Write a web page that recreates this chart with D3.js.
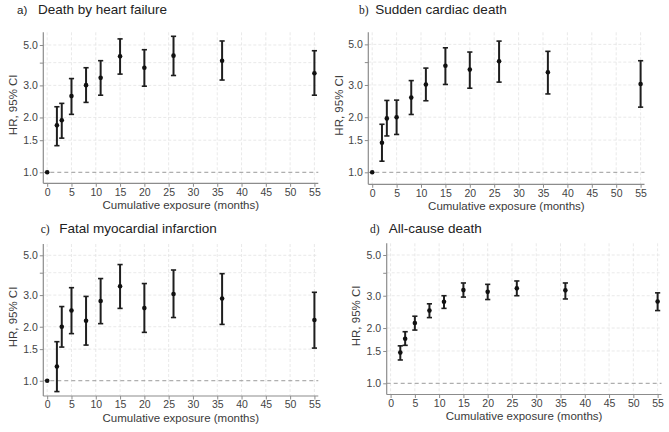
<!DOCTYPE html>
<html>
<head>
<meta charset="utf-8">
<script src="https://cdn.jsdelivr.net/npm/d3@7"></script>
<style>
  body { margin: 0; background: #fff; }
  svg { display: block; font-family: "Liberation Sans", Arial, sans-serif; }
</style>
</head>
<body>
<svg id="chart" width="669" height="432"></svg>
<script>
// cumulative exposure (months)
const months = [0, 2, 3, 5, 8, 11, 15, 20, 26, 36, 55];

// a) death by heart failure
const hf_hr = [1.00, 1.81, 1.93, 2.62, 3.01, 3.30, 4.33, 3.75, 4.37, 4.10, 3.50];
const hf_lo = [null, 1.40, 1.54, 2.08, 2.42, 2.65, 3.46, 2.97, 3.40, 3.21, 2.65];
const hf_hi = [null, 2.29, 2.39, 3.27, 3.75, 4.10, 5.40, 4.71, 5.58, 5.26, 4.65];

// b) sudden cardiac death
const scd_hr = [1.00, 1.45, 1.97, 2.00, 2.56, 3.02, 3.82, 3.64, 4.04, 3.52, 3.04];
const scd_lo = [null, 1.15, 1.58, 1.61, 2.07, 2.46, 3.02, 2.88, 3.11, 2.68, 2.27];
const scd_hi = [null, 1.83, 2.47, 2.48, 3.17, 3.71, 4.79, 4.54, 5.21, 4.58, 4.07];

// c) fatal myocardial infarction
const mi_hr = [1.00, 1.20, 2.00, 2.46, 2.16, 2.78, 3.36, 2.54, 3.04, 2.87, 2.18];
const mi_lo = [null, 0.87, 1.54, 1.83, 1.58, 2.08, 2.53, 1.86, 2.25, 2.06, 1.52];
const mi_hi = [null, 1.65, 2.59, 3.30, 2.95, 3.71, 4.44, 3.48, 4.14, 3.95, 3.11];

// d) all-cause death (no reference point drawn)
const acd_hr = [null, 1.47, 1.75, 2.13, 2.49, 2.78, 3.22, 3.15, 3.29, 3.21, 2.79];
const acd_lo = [null, 1.34, 1.61, 1.95, 2.28, 2.56, 2.95, 2.86, 3.00, 2.88, 2.49];
const acd_hi = [null, 1.60, 1.91, 2.32, 2.71, 3.00, 3.52, 3.46, 3.61, 3.52, 3.11];

const xTicks = [0, 5, 10, 15, 20, 25, 30, 35, 40, 45, 50, 55];
const yTicks = [1.0, 1.5, 2.0, 3.0, 5.0];
const yMinor = [4.0];
const xTitle = "Cumulative exposure (months)";
const yTitle = "HR, 95% CI";

const panels = [
  { letter: "a)", title: "Death by heart failure", hr: hf_hr, lo: hf_lo, hi: hf_hi,
    box: [43.3, 32.3, 318.3, 183.3], yDom: [0.870, 5.87], tx: [17, 38, 13.5], letterFont: "sans", yt: 12.7 },
  { letter: "b)", title: "Sudden cardiac death", hr: scd_hr, lo: scd_lo, hi: scd_hi,
    box: [368.3, 32.3, 644.5, 184.3], yDom: [0.860, 5.82], tx: [359, 375.3, 13.5], letterFont: "serif", yt: 339 },
  { letter: "c)", title: "Fatal myocardial infarction", hr: mi_hr, lo: mi_lo, hi: mi_hi,
    box: [43.3, 244, 318.3, 396], yDom: [0.822, 5.78], tx: [40.7, 59.3, 233.3], letterFont: "serif", yt: 13.3 },
  { letter: "d)", title: "All-cause death", hr: acd_hr, lo: acd_lo, hi: acd_hi,
    box: [386.7, 243.3, 661.5, 394.5], yDom: [0.869, 5.79], tx: [370, 388.7, 233.3], letterFont: "serif", yt: 356 }
];

const svg = d3.select("#chart");
const fmt = d3.format(".1f");

panels.forEach(p => {
  const [x0, y0, x1, y1] = p.box;
  const x = d3.scaleLinear().domain([-0.8, 55.8]).range([x0, x1]);
  const y = d3.scaleLog().domain(p.yDom).range([y1, y0]);
  const g = svg.append("g");

  // grid
  g.selectAll("line.vgrid")
    .data(xTicks)
    .enter()
    .append("line")
    .attr("class", "vgrid")
    .attr("x1", d => x(d)).attr("x2", d => x(d))
    .attr("y1", y0).attr("y2", y1)
    .style("stroke", "#e3e3e3")
    .style("stroke-width", 0.8)
    .style("stroke-dasharray", "3,2");

  g.selectAll("line.hgrid")
    .data(yTicks.concat(yMinor).filter(d => d !== 1))
    .enter()
    .append("line")
    .attr("class", "hgrid")
    .attr("x1", x0).attr("x2", x1)
    .attr("y1", d => y(d)).attr("y2", d => y(d))
    .style("stroke", "#e3e3e3")
    .style("stroke-width", 0.8)
    .style("stroke-dasharray", "3,2");

  // reference line at HR = 1
  g.append("line")
    .attr("x1", x0).attr("x2", x1)
    .attr("y1", y(1)).attr("y2", y(1))
    .style("stroke", "#9a9a9a")
    .style("stroke-width", 1)
    .style("stroke-dasharray", "4,3");

  // axes
  const yAxis = d3.axisLeft(y)
    .tickValues(yTicks.concat(yMinor))
    .tickSize(3.5)
    .tickPadding(2)
    .tickFormat(d => yMinor.includes(d) ? "" : fmt(d));
  const xAxis = d3.axisBottom(x)
    .tickValues(xTicks)
    .tickSize(3.5)
    .tickPadding(1.5)
    .tickFormat(d3.format("d"));

  const ya = g.append("g").attr("transform", `translate(${x0},0)`).call(yAxis);
  const xa = g.append("g").attr("transform", `translate(0,${y1})`).call(xAxis);
  [ya, xa].forEach(a => {
    a.select(".domain").remove();
    a.selectAll(".tick line").style("stroke", "#8c8c8c").style("stroke-width", 1);
    a.selectAll(".tick text")
      .style("fill", "#444")
      .style("font-size", "10.5px")
      .style("font-family", "'Liberation Sans', Arial, sans-serif");
  });

  g.append("line")
    .attr("x1", x0).attr("x2", x0).attr("y1", y0).attr("y2", y1)
    .style("stroke", "#8c8c8c").style("stroke-width", 1.2);
  g.append("line")
    .attr("x1", x0).attr("x2", x1).attr("y1", y1).attr("y2", y1)
    .style("stroke", "#8c8c8c").style("stroke-width", 1.2);

  // axis titles
  g.append("text")
    .attr("x", (x0 + x1) / 2)
    .attr("y", y1 + 25.5)
    .attr("text-anchor", "middle")
    .style("font-size", "11.5px")
    .style("fill", "#3a3a3a")
    .text(xTitle);

  g.append("text")
    .attr("transform", `translate(${p.yt},${(y0 + y1) / 2 - 3}) rotate(-90)`)
    .attr("text-anchor", "middle")
    .attr("dy", "0.36em")
    .style("font-size", "11.5px")
    .style("fill", "#3a3a3a")
    .text(yTitle);

  // panel title
  g.append("text")
    .attr("x", p.tx[0]).attr("y", p.tx[2])
    .style("font-size", "11.5px")
    .style("font-family", p.letterFont === "serif" ? "'Liberation Serif', 'Times New Roman', serif" : "'Liberation Sans', Arial, sans-serif")
    .style("fill", "#222")
    .text(p.letter);
  g.append("text")
    .attr("x", p.tx[1]).attr("y", p.tx[2])
    .style("font-size", "13.5px")
    .style("fill", "#222")
    .text(p.title);

  // estimates with 95% CI
  const rows = months.map((m, i) => ({ m: m, hr: p.hr[i], lo: p.lo[i], hi: p.hi[i] }))
    .filter(d => d.hr !== null);
  const ci = rows.filter(d => d.lo !== null);

  g.selectAll("line.ci")
    .data(ci)
    .enter()
    .append("line")
    .attr("class", "ci")
    .attr("x1", d => x(d.m)).attr("x2", d => x(d.m))
    .attr("y1", d => y(d.lo)).attr("y2", d => y(d.hi))
    .style("stroke", "#1e1e1e")
    .style("stroke-width", 2);

  ["lo", "hi"].forEach(k => {
    g.selectAll("line.cap-" + k)
      .data(ci)
      .enter()
      .append("line")
      .attr("class", "cap-" + k)
      .attr("x1", d => x(d.m) - 2.6).attr("x2", d => x(d.m) + 2.6)
      .attr("y1", d => y(d[k])).attr("y2", d => y(d[k]))
      .style("stroke", "#1e1e1e")
      .style("stroke-width", 1.6);
  });

  g.selectAll("circle.pt")
    .data(rows)
    .enter()
    .append("circle")
    .attr("class", "pt")
    .attr("cx", d => x(d.m))
    .attr("cy", d => y(d.hr))
    .attr("r", 2.3)
    .style("fill", "#111");
});
</script>
</body>
</html>
